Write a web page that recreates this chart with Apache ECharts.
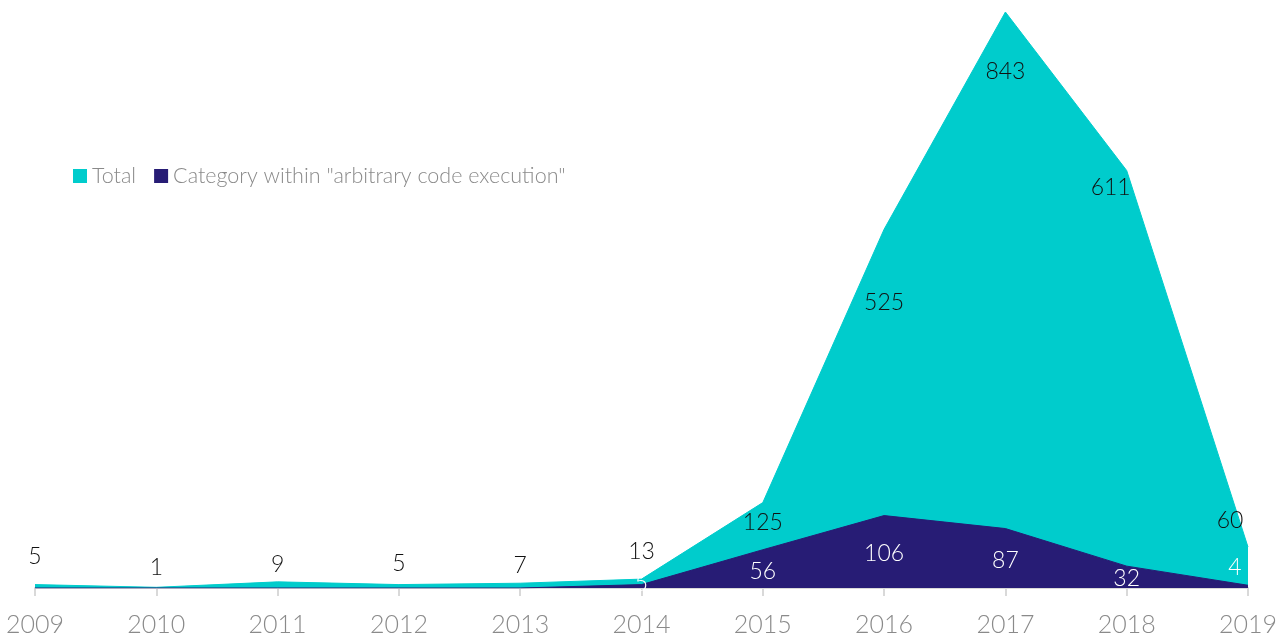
<!DOCTYPE html>
<html>
<head>
<meta charset="utf-8">
<script src="https://cdn.jsdelivr.net/npm/echarts@6/dist/echarts.min.js"></script>
<style>
  html, body { margin: 0; padding: 0; background: #fff; }
  #chart { width: 1285px; height: 638px; }
</style>
</head>
<body>
<div id="chart"></div>
<script>
// Yearly counts
const years = ['2009', '2010', '2011', '2012', '2013', '2014', '2015', '2016', '2017', '2018', '2019'];
const totalValues = [5, 1, 9, 5, 7, 13, 125, 525, 843, 611, 60];
const categoryValues = [0, 0, 0, 0, 0, 5, 56, 106, 87, 32, 4];
const seriesNames = ['Total', 'Category within "arbitrary code execution"'];

// Nudges for the value labels (pixels, relative to the default "top" spot)
const totalLabelDx = [0, 0, 0, 0, 0, 0, 0, 0, 0, -16, -18];
const totalLabelDy = [-11, -3, -1, -4, -1, -11, 37, 90, 76, 34, -10];
const categoryLabelDx = [0, 0, 0, 0, 0, 0, 0, 0, 0, 0, -13];
const categoryLabelDy = [0, 0, 0, 0, 0, 16, 38, 55, 49, 29, -1];

const FONT = 'Lato, "Open Sans", sans-serif';

function withLabels(values, dx, dy, color) {
  return values.map((v, i) => ({
    value: v,
    label: {
      show: v !== 0,
      position: 'top',
      distance: 5,
      offset: [dx[i], dy[i]],
      color: color,
      fontSize: 23,
      fontFamily: FONT,
      fontWeight: 300
    }
  }));
}

const chart = echarts.init(document.getElementById('chart'));
chart.setOption({
  animation: false,
  backgroundColor: '#ffffff',
  grid: { left: 35, right: 37, top: 12, bottom: 50 },
  legend: {
    left: 68,
    top: 160,
    itemWidth: 14,
    itemHeight: 14,
    itemGap: 18,
    icon: 'rect',
    textStyle: { color: '#8a8a8a', fontSize: 21.5, fontFamily: FONT, fontWeight: 300 },
    data: seriesNames
  },
  xAxis: {
    type: 'category',
    data: years,
    boundaryGap: false,
    axisLine: { lineStyle: { color: '#d9d9d9', width: 2 } },
    axisTick: { show: true, length: 8, lineStyle: { color: '#d9d9d9', width: 2 } },
    axisLabel: { color: '#8a8a8a', fontSize: 25, fontFamily: FONT, fontWeight: 300, margin: 24 },
    splitLine: { show: false }
  },
  yAxis: {
    type: 'value',
    min: 0,
    max: 843,
    show: false,
    splitLine: { show: false }
  },
  series: [
    {
      name: seriesNames[0],
      type: 'line',
      data: withLabels(totalValues, totalLabelDx, totalLabelDy, '#111111'),
      symbol: 'circle',
      symbolSize: 0.1,
      showSymbol: true,
      itemStyle: { color: '#00cccc' },
      lineStyle: { color: '#00cccc', width: 1 },
      areaStyle: { color: '#00cccc', opacity: 1 },
      z: 2
    },
    {
      name: seriesNames[1],
      type: 'line',
      data: withLabels(categoryValues, categoryLabelDx, categoryLabelDy, '#ffffff'),
      symbol: 'circle',
      symbolSize: 0.1,
      showSymbol: true,
      itemStyle: { color: '#271c75' },
      lineStyle: { color: '#271c75', width: 1 },
      areaStyle: { color: '#271c75', opacity: 1 },
      z: 3
    }
  ]
});
</script>
</body>
</html>
